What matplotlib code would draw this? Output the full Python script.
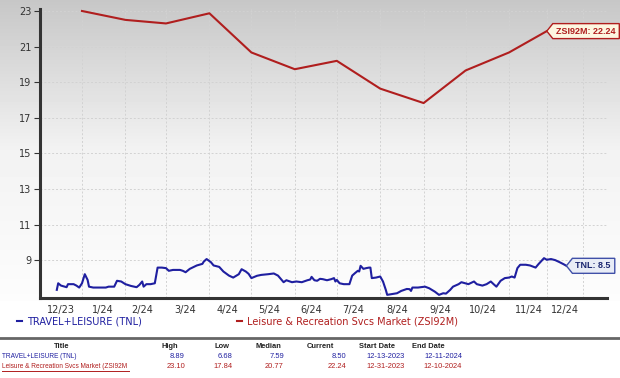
import matplotlib
matplotlib.use("Agg")
import matplotlib.pyplot as plt
import matplotlib.dates as mdates
from matplotlib.lines import Line2D
from matplotlib.patches import Polygon
import numpy as np
import pandas as pd

# TNL daily close
tnl_dates = [
    "2023-12-13", "2023-12-14", "2023-12-16", "2023-12-20", "2023-12-21", "2023-12-25",
    "2023-12-27", "2023-12-29", "2023-12-31", "2024-01-02", "2024-01-04", "2024-01-05",
    "2024-01-08", "2024-01-13", "2024-01-17", "2024-01-19", "2024-01-23", "2024-01-25",
    "2024-01-28", "2024-01-31", "2024-02-04", "2024-02-08", "2024-02-10", "2024-02-12",
    "2024-02-13", "2024-02-15", "2024-02-18", "2024-02-21", "2024-02-23", "2024-02-26",
    "2024-02-29", "2024-03-02", "2024-03-05", "2024-03-10", "2024-03-12", "2024-03-14",
    "2024-03-17", "2024-03-22", "2024-03-26", "2024-03-27", "2024-03-29", "2024-04-01",
    "2024-04-03", "2024-04-07", "2024-04-10", "2024-04-14", "2024-04-17", "2024-04-21",
    "2024-04-23", "2024-04-26", "2024-04-28", "2024-04-30", "2024-05-04", "2024-05-07",
    "2024-05-12", "2024-05-16", "2024-05-19", "2024-05-23", "2024-05-25", "2024-05-29",
    "2024-06-01", "2024-06-05", "2024-06-09", "2024-06-11", "2024-06-12", "2024-06-14",
    "2024-06-16", "2024-06-18", "2024-06-20", "2024-06-23", "2024-06-26", "2024-06-28",
    "2024-06-29", "2024-06-30", "2024-07-02", "2024-07-05", "2024-07-09", "2024-07-11",
    "2024-07-13", "2024-07-15", "2024-07-16", "2024-07-17", "2024-07-19", "2024-07-21",
    "2024-07-23", "2024-07-24", "2024-07-25", "2024-07-28", "2024-07-31", "2024-08-02",
    "2024-08-04", "2024-08-05", "2024-08-08", "2024-08-12", "2024-08-15", "2024-08-19",
    "2024-08-21", "2024-08-22", "2024-08-23", "2024-08-27", "2024-09-01", "2024-09-04",
    "2024-09-08", "2024-09-11", "2024-09-14", "2024-09-16", "2024-09-19", "2024-09-21",
    "2024-09-25", "2024-09-27", "2024-10-02", "2024-10-06", "2024-10-08", "2024-10-12",
    "2024-10-15", "2024-10-18", "2024-10-20", "2024-10-22", "2024-10-25", "2024-10-28",
    "2024-10-31", "2024-11-02", "2024-11-04", "2024-11-06", "2024-11-08", "2024-11-12",
    "2024-11-15", "2024-11-19", "2024-11-21", "2024-11-24", "2024-11-25", "2024-11-27",
    "2024-11-30", "2024-12-03", "2024-12-06", "2024-12-09", "2024-12-11",
]
tnl_close = [
    7.34, 7.71, 7.58, 7.49, 7.66, 7.66,
    7.58, 7.47, 7.71, 8.22, 7.90, 7.52,
    7.47, 7.47, 7.47, 7.52, 7.52, 7.85,
    7.81, 7.66, 7.56, 7.49, 7.62, 7.81,
    7.52, 7.66, 7.66, 7.71, 8.59, 8.59,
    8.56, 8.41, 8.46, 8.46, 8.41, 8.33,
    8.52, 8.71, 8.80, 8.93, 9.07, 8.90,
    8.71, 8.63, 8.37, 8.14, 8.03, 8.22,
    8.50, 8.37, 8.24, 8.00, 8.13, 8.18,
    8.22, 8.26, 8.14, 7.77, 7.88, 7.77,
    7.81, 7.77, 7.88, 7.92, 8.07, 7.88,
    7.85, 7.96, 7.94, 7.88, 7.94, 8.00,
    7.81, 7.90, 7.71, 7.66, 7.66, 8.14,
    8.28, 8.41, 8.37, 8.69, 8.52, 8.56,
    8.59, 8.59, 8.00, 8.03, 8.09, 7.81,
    7.34, 7.06, 7.10, 7.15, 7.28, 7.39,
    7.38, 7.28, 7.47, 7.47, 7.52, 7.43,
    7.24, 7.06, 7.15, 7.13, 7.34, 7.52,
    7.66, 7.77, 7.66, 7.81, 7.66, 7.58,
    7.66, 7.81, 7.66, 7.52, 7.85, 8.00,
    8.03, 8.09, 8.03, 8.56, 8.75, 8.75,
    8.71, 8.59, 8.78, 9.03, 9.12, 9.03,
    9.07, 9.01, 8.90, 8.78, 8.69,
]

# ZSI92M monthly values
zsi_dates = ["2023-12-31", "2024-01-31", "2024-02-29", "2024-03-31", "2024-04-30", "2024-05-31",
             "2024-06-30", "2024-07-31", "2024-08-31", "2024-09-30", "2024-10-31", "2024-11-27"]
zsi_values = [23.0, 22.5, 22.3, 22.87, 20.67, 19.73, 20.2, 18.64, 17.83, 19.66, 20.67, 21.87]

month_labels = ["12/23", "1/24", "2/24", "3/24", "4/24", "5/24", "6/24",
                "7/24", "8/24", "9/24", "10/24", "11/24", "12/24"]
label_dates = ["2023-12-16", "2024-01-15", "2024-02-12", "2024-03-14", "2024-04-13", "2024-05-13",
               "2024-06-12", "2024-07-12", "2024-08-12", "2024-09-12", "2024-10-12", "2024-11-14",
               "2024-12-10"]
grid_dates = ["2023-12-31", "2024-01-31", "2024-02-29", "2024-03-31", "2024-04-30", "2024-05-31",
              "2024-06-30", "2024-07-31", "2024-08-31", "2024-09-30", "2024-10-31", "2024-11-27",
              "2024-12-23"]
y_ticks = [9, 11, 13, 15, 17, 19, 21, 23]

tnl_name = "TRAVEL+LEISURE (TNL)"
zsi_name = "Leisure & Recreation Svcs Market (ZSI92M)"
tnl_tag = "TNL: 8.5"
zsi_tag = "ZSI92M: 22.24"

table_header = ["Title", "High", "Low", "Median", "Current", "Start Date", "End Date"]
tnl_row = ["TRAVEL+LEISURE (TNL)", "8.89", "6.68", "7.59", "8.50", "12-13-2023", "12-11-2024"]
zsi_row = ["Leisure & Recreation Svcs Market (ZSI92M", "23.10", "17.84", "20.77", "22.24",
           "12-31-2023", "12-10-2024"]

BLUE = "#1f1fa0"
RED = "#b01e1e"
W, H = 620, 378

fig = plt.figure(figsize=(W / 100, H / 100), dpi=100)

# gray gradient behind the chart, white below it
bg = fig.add_axes([0, 0, 1, 1], zorder=0)
rows = np.arange(H)
shade = np.interp(rows, [0, 150, 300, 301, H], [0.78, 0.95, 0.99, 1.0, 1.0])
bg.imshow(np.repeat(shade[:, None], 2, axis=1), cmap="gray", vmin=0, vmax=1,
          aspect="auto", extent=[0, 1, 0, 1])
bg.set_axis_off()

def px(x0, y0, x1, y1):
    return [x0 / W, 1 - y1 / H, (x1 - x0) / W, (y1 - y0) / H]

ax = fig.add_axes(px(40, 9.2, 607, 297.7), zorder=1)
ax.set_facecolor("none")

t_dates = pd.to_datetime(tnl_dates)
z_dates = pd.to_datetime(zsi_dates)
ax.plot(t_dates, tnl_close, color=BLUE, lw=1.5, zorder=3)
ax.plot(z_dates, zsi_values, color=RED, lw=1.5, zorder=3)

ax.set_xlim(pd.Timestamp("2023-12-01"), pd.Timestamp("2025-01-09"))
ax.set_ylim(6.9, 23.1)

ax.set_yticks(y_ticks)
ax.set_xticks(pd.to_datetime(label_dates))
ax.set_xticklabels(month_labels)
ax.set_xticks(pd.to_datetime(grid_dates), minor=True)
ax.tick_params(axis="x", which="both", length=0, labelsize=7, colors="#333333", pad=5)
ax.tick_params(axis="y", length=4, width=0.8, labelsize=7, colors="#333333", pad=2)
ax.grid(axis="y", which="major", color="#d2d2d2", lw=0.7, ls=(0, (2, 2)))
ax.grid(axis="x", which="minor", color="#d2d2d2", lw=0.7, ls=(0, (2, 2)))
ax.grid(axis="x", which="major", visible=False)
for s in ["top", "right"]:
    ax.spines[s].set_visible(False)
for s in ["left", "bottom"]:
    ax.spines[s].set_color("#333333")
    ax.spines[s].set_linewidth(2.2)

fig.canvas.draw()

def callout(xval, yval, text, fc, ec, tc):
    x0, y0 = ax.transData.transform((mdates.date2num(xval), yval))
    t = fig.text(0, 0, text, fontsize=6.5, fontweight="bold", color=tc,
                 ha="left", va="center", zorder=6, family="Liberation Sans")
    t.set_position(((x0 + 9) / fig.bbox.width, y0 / fig.bbox.height))
    fig.canvas.draw()
    bb = t.get_window_extent()
    h = 7.5
    x1 = bb.x1 + 4
    verts = [(x0, y0), (x0 + 6, y0 + h), (x1, y0 + h), (x1, y0 - h), (x0 + 6, y0 - h)]
    poly = Polygon(verts, closed=True, fc=fc, ec=ec, lw=1.0, transform=None, zorder=5)
    fig.add_artist(poly)

callout(t_dates[-1], tnl_close[-1], tnl_tag, "#e8ecf6", "#4050a8", "#1a2670")
callout(z_dates[-1], zsi_values[-1], zsi_tag, "#fdf6e0", RED, RED)

# legend under the axis
for x_line, name, col in [(17, tnl_name, BLUE), (237, zsi_name, RED)]:
    fig.add_artist(Line2D([x_line / W, (x_line + 5) / W], [1 - 321 / H] * 2, color=col, lw=1.5))
    fig.text((x_line + 10) / W, 1 - 321 / H, name, color=col, fontsize=7, va="center")

# stats table
fig.add_artist(Line2D([0, 1], [1 - 338 / H] * 2, color="#666666", lw=2.0))
tfont = "Liberation Sans"
head_x = [62, 170, 222, 268, 320, 377, 428]
val_x = [2, 185, 233, 284, 346, 405, 462]
for hx, h in zip(head_x, table_header):
    fig.text(hx / W, 1 - 346 / H, h, fontsize=5.4, fontweight="bold", ha="center",
             va="center", color="#222222", family=tfont)
for ry, row, col in [(356, tnl_row, BLUE), (367, zsi_row, RED)]:
    for i, (vx, v) in enumerate(zip(val_x, row)):
        fig.text(vx / W, 1 - ry / H, v, fontsize=5.4 if i else 4.7,
                 ha="left" if i == 0 else "right",
                 va="center", color=col, family=tfont)
fig.add_artist(Line2D([2 / W, 129 / W], [1 - 371 / H] * 2, color=RED, lw=0.7))

fig.savefig("out.png", dpi=100)
